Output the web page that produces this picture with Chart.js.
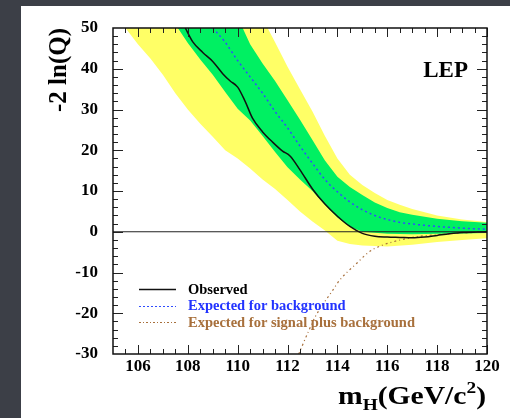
<!DOCTYPE html>
<html>
<head>
<meta charset="utf-8">
<script src="https://cdn.jsdelivr.net/npm/chart.js@4.4.0/dist/chart.umd.min.js"></script>
<style>
  html, body { margin: 0; padding: 0; }
  body { width: 510px; height: 418px; background: #3c3f47; position: relative; overflow: hidden; }
  #sheet { position: absolute; left: 21px; top: 6px; right: 0; bottom: 0; background: #fff; }
  #wrap { position: absolute; left: 0; top: 0; width: 510px; height: 418px; }
</style>
</head>
<body>
<div id="sheet"></div>
<div id="wrap"><canvas id="chart" width="510" height="418"></canvas></div>
<script>
// -2 ln(Q) vs Higgs mass, LEP combination

const xTicks = [106, 108, 110, 112, 114, 116, 118, 120];
const yTicks = [-30, -20, -10, 0, 10, 20, 30, 40, 50];

// observed
const obsMass = [107.9, 108.2, 108.6, 109, 109.4, 109.7, 110, 110.3, 110.6, 111, 111.4, 111.8, 112.1, 112.5, 113, 113.5, 114, 114.5, 115, 115.5, 116, 116.5, 117, 117.5, 118, 118.5, 119, 120];
const obsVal  = [50, 46.6, 44, 41.8, 38.8, 37, 35.5, 32, 27.8, 24.5, 22, 19.8, 18.6, 15.2, 10.5, 6.8, 3.8, 1.3, -0.4, -1.1, -1.3, -1.4, -1.5, -1.3, -0.9, -0.5, -0.2, 0];

// expected for background
const bkgMass = [109, 109.5, 110, 110.5, 111, 111.5, 112, 112.5, 113, 113.5, 114, 114.5, 115, 115.5, 116, 116.5, 117, 118, 119, 120];
const bkgVal  = [50, 46.5, 42, 38, 34, 29.5, 25.5, 21, 16.8, 12.8, 9.8, 7.3, 5.4, 4, 3, 2.3, 1.9, 1.3, 0.9, 0.6];

// expected for signal plus background
const sbMass = [112.45, 112.8, 113.1, 113.4, 113.8, 114.1, 114.5, 114.8, 115.1, 115.4, 115.8, 116.1, 116.6, 117.2, 118, 119, 120];
const sbVal  = [-30, -25, -21, -18, -14.5, -11.8, -9.3, -7.6, -5.8, -4.4, -3.3, -2.7, -1.9, -1.2, -0.7, -0.3, -0.1];

// 2 sigma band edges
const band2LoMass = [105.5, 106, 106.5, 107, 107.5, 108, 108.5, 109, 109.5, 110, 110.5, 111, 111.5, 112, 112.5, 113, 113.5, 114, 114.5, 115, 116, 117, 118, 119, 120];
const band2LoVal  = [50, 46, 42.5, 38.5, 34, 30, 26.5, 23.3, 20, 18, 15.5, 12.8, 10.5, 7.8, 5, 2.5, 0.3, -2.2, -3, -3.4, -3.6, -3.2, -2.5, -2, -1.6];
const band2HiMass = [111.2, 111.5, 112, 112.5, 113, 113.5, 114, 114.5, 115, 115.5, 116, 116.5, 117, 118, 119, 120];
const band2HiVal  = [50, 46.5, 40.5, 35, 29.5, 23.5, 18, 14, 11.5, 9.5, 7.8, 6.6, 5.6, 4, 3, 2.4];

// 1 sigma band edges
const band1LoMass = [107.6, 108, 108.5, 109, 109.5, 110, 110.5, 111, 111.5, 112, 112.5, 113, 113.5, 114, 114.5, 115, 116, 117, 118, 119, 120];
const band1LoVal  = [50, 46.3, 42.3, 38.5, 34.3, 30.2, 27.3, 23.5, 19.6, 15.8, 12.8, 10, 6.6, 3.5, 1.2, 0, -0.5, -0.6, -0.5, -0.4, -0.3];
const band1HiMass = [110.2, 110.5, 111, 111.5, 112, 112.5, 113, 113.5, 114, 114.5, 115, 115.5, 116, 116.5, 117, 118, 119, 120];
const band1HiVal  = [50, 46, 41.3, 37, 32.3, 27.5, 22.5, 17.5, 13.5, 11, 9, 7.2, 5.8, 4.8, 4.2, 3.2, 2.6, 2.2];

const zeroMass = [105, 120];
const zeroVal = [0, 0];

const YELLOW = '#ffff66';
const GREEN = '#00f062';
const BLUE = '#2f4cff';
const BROWN = '#a8703c';
const SERIF = '"Liberation Serif", "Times New Roman", serif';

const pts = (xs, ys) => xs.map((x, i) => ({ x: x, y: ys[i] }));

// bands: every edge fills up to the top, painted lowest edge first
function bandEdge(xs, ys, color, order) {
  return {
    data: pts(xs, ys),
    fill: 'end',
    backgroundColor: color,
    borderWidth: 0,
    pointRadius: 0,
    order: order
  };
}

function curve(xs, ys, color, width, dash, order) {
  return {
    data: pts(xs, ys),
    borderColor: color,
    borderWidth: width,
    borderDash: dash,
    pointRadius: 0,
    fill: false,
    cubicInterpolationMode: 'monotone',
    order: order
  };
}

// frame, inward ticks on all four sides, titles and legend
const decor = {
  id: 'decor',
  afterDatasetsDraw(chart) {
    const ctx = chart.ctx;
    const a = chart.chartArea;
    const xs = chart.scales.x, ys = chart.scales.y;
    ctx.save();
    ctx.strokeStyle = '#222';
    ctx.lineWidth = 1;
    ctx.beginPath();
    for (let i = 211; i <= 240; i++) {        // half-GeV steps
      const px = Math.round(xs.getPixelForValue(i / 2)) + 0.5;
      const len = (i % 4 === 0) ? 9 : 5;
      ctx.moveTo(px, a.bottom); ctx.lineTo(px, a.bottom - len);
      ctx.moveTo(px, a.top); ctx.lineTo(px, a.top + len);
    }
    for (let v = -28; v <= 48; v += 2) {
      const py = Math.round(ys.getPixelForValue(v)) + 0.5;
      const len = (v % 10 === 0) ? 10 : 5;
      ctx.moveTo(a.left, py); ctx.lineTo(a.left + len, py);
      ctx.moveTo(a.right, py); ctx.lineTo(a.right - len, py);
    }
    ctx.stroke();
    ctx.lineWidth = 1.5;
    ctx.strokeStyle = '#111';
    ctx.strokeRect(a.left, a.top, a.right - a.left, a.bottom - a.top);

    // LEP label
    ctx.fillStyle = '#000';
    ctx.font = 'bold 23px ' + SERIF;
    ctx.textAlign = 'right';
    ctx.textBaseline = 'middle';
    ctx.fillText('LEP', 468, 71);

    // y title, placed at the top end of the axis
    ctx.save();
    ctx.translate(60, 28);
    ctx.rotate(-Math.PI / 2);
    ctx.font = 'bold 25px ' + SERIF;
    ctx.textAlign = 'right';
    ctx.textBaseline = 'middle';
    ctx.fillText('-2 ln(Q)', 0, 0);
    ctx.restore();

    // x title m_H(GeV/c^2), right aligned at the axis end
    const big = 'bold 26px ' + SERIF, small = 'bold 17px ' + SERIF;
    const parts = [
      { t: 'm', f: big, dy: 0 },
      { t: 'H', f: small, dy: 6 },
      { t: '(GeV/c', f: big, dy: 0 },
      { t: '2', f: small, dy: -11 },
      { t: ')', f: big, dy: 0 }
    ];
    let total = 0;
    parts.forEach(p => { ctx.font = p.f; p.w = ctx.measureText(p.t).width; total += p.w; });
    const x0 = 338, x1 = 486, base = 404;
    const sx = (x1 - x0) / total;
    ctx.save();
    ctx.translate(x0, base);
    ctx.scale(sx, 1);
    ctx.textAlign = 'left';
    ctx.textBaseline = 'alphabetic';
    let cx = 0;
    parts.forEach(p => { ctx.font = p.f; ctx.fillText(p.t, cx, p.dy); cx += p.w; });
    ctx.restore();

    // legend
    const rows = [
      { label: 'Observed', color: '#111', text: '#000', dash: [], w: 1.5 },
      { label: 'Expected for background', color: BLUE, text: '#2233ff', dash: [2, 2], w: 1 },
      { label: 'Expected for signal plus background', color: BROWN, text: BROWN, dash: [2, 2, 1, 2], w: 1 }
    ];
    ctx.font = 'bold 14.5px ' + SERIF;
    ctx.textAlign = 'left';
    ctx.textBaseline = 'middle';
    rows.forEach((r, i) => {
      const y = 289 + i * 16.5;
      ctx.strokeStyle = r.color;
      ctx.lineWidth = r.w;
      ctx.setLineDash(r.dash);
      ctx.beginPath();
      ctx.moveTo(139, Math.round(y) + 0.5);
      ctx.lineTo(176, Math.round(y) + 0.5);
      ctx.stroke();
      ctx.setLineDash([]);
      ctx.fillStyle = r.text;
      ctx.fillText(r.label, 188, y + 1);
    });
    ctx.restore();
  }
};

const tickFont = { family: SERIF, weight: 'bold', size: 17 };

new Chart(document.getElementById('chart'), {
  type: 'line',
  data: {
    datasets: [
      bandEdge(band2LoMass, band2LoVal, YELLOW, 10),
      bandEdge(band1LoMass, band1LoVal, GREEN, 9),
      bandEdge(band1HiMass, band1HiVal, YELLOW, 8),
      bandEdge(band2HiMass, band2HiVal, '#ffffff', 7),
      curve(zeroMass, zeroVal, '#222', 1, [], 5),
      curve(sbMass, sbVal, BROWN, 1.2, [2, 3, 1, 3], 3),
      curve(bkgMass, bkgVal, BLUE, 1.5, [2, 3], 2),
      curve(obsMass, obsVal, '#111', 1.5, [], 1)
    ]
  },
  plugins: [decor],
  options: {
    responsive: false,
    animation: false,
    events: [],
    layout: { padding: { top: 28, right: 23, left: 0, bottom: 0 } },
    plugins: { legend: { display: false }, tooltip: { enabled: false } },
    scales: {
      x: {
        type: 'linear',
        min: 105,
        max: 120,
        afterBuildTicks: s => { s.ticks = xTicks.map(v => ({ value: v })); },
        afterFit: s => { s.height = 64; },
        grid: { display: false, drawTicks: false },
        border: { display: false },
        ticks: { font: tickFont, color: '#000', padding: 2, maxRotation: 0, autoSkip: false }
      },
      y: {
        type: 'linear',
        min: -30,
        max: 50,
        afterBuildTicks: s => { s.ticks = yTicks.map(v => ({ value: v })); },
        afterFit: s => { s.width = 113; },
        grid: { display: false, drawTicks: false },
        border: { display: false },
        ticks: { font: tickFont, color: '#000', padding: 15, autoSkip: false }
      }
    }
  }
});
</script>
</body>
</html>
